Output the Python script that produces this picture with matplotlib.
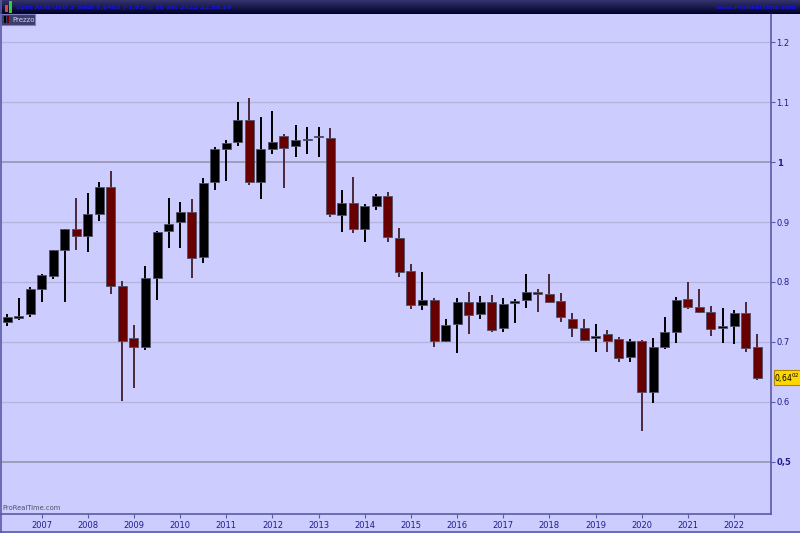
"""
AUD/USD quarterly candles, ProRealTime style
"""
import numpy as np
import matplotlib
matplotlib.use("Agg")
import matplotlib.pyplot as plt

# quarterly OHLC, Q2 2006 .. Q3 2022
opens = [0.733, 0.740, 0.746, 0.789, 0.810, 0.853, 0.888, 0.877, 0.914, 0.958,
         0.794, 0.706, 0.692, 0.807, 0.885, 0.900, 0.916, 0.841, 0.966, 1.022,
         1.033, 1.070, 0.967, 1.022, 1.043, 1.027, 1.036, 1.041, 1.040, 0.912,
         0.931, 0.888, 0.927, 0.943, 0.874, 0.818, 0.762, 0.770, 0.702, 0.730,
         0.767, 0.746, 0.766, 0.723, 0.765, 0.770, 0.783, 0.780, 0.769, 0.739,
         0.723, 0.707, 0.713, 0.705, 0.675, 0.702, 0.617, 0.691, 0.717, 0.771,
         0.759, 0.750, 0.723, 0.727, 0.748, 0.691]
highs = [0.746, 0.773, 0.792, 0.813, 0.854, 0.888, 0.940, 0.949, 0.966, 0.985,
         0.802, 0.728, 0.826, 0.885, 0.940, 0.933, 0.938, 0.973, 1.025, 1.037,
         1.100, 1.106, 1.075, 1.085, 1.047, 1.062, 1.058, 1.059, 1.056, 0.953,
         0.975, 0.930, 0.947, 0.950, 0.890, 0.830, 0.816, 0.773, 0.739, 0.773,
         0.784, 0.777, 0.778, 0.774, 0.771, 0.813, 0.789, 0.813, 0.781, 0.748,
         0.739, 0.730, 0.720, 0.709, 0.705, 0.703, 0.707, 0.742, 0.775, 0.800,
         0.789, 0.760, 0.756, 0.753, 0.766, 0.714]
lows = [0.727, 0.737, 0.741, 0.767, 0.805, 0.767, 0.854, 0.850, 0.902, 0.780,
        0.601, 0.624, 0.686, 0.770, 0.856, 0.856, 0.806, 0.831, 0.953, 0.969,
        1.027, 0.961, 0.938, 1.013, 0.957, 1.009, 1.013, 1.009, 0.909, 0.884,
        0.881, 0.866, 0.920, 0.867, 0.809, 0.755, 0.753, 0.691, 0.700, 0.682,
        0.714, 0.739, 0.716, 0.717, 0.732, 0.756, 0.750, 0.765, 0.733, 0.709,
        0.701, 0.683, 0.683, 0.667, 0.666, 0.551, 0.598, 0.688, 0.699, 0.755,
        0.748, 0.710, 0.699, 0.697, 0.683, 0.636]
closes = [0.742, 0.743, 0.788, 0.811, 0.853, 0.888, 0.876, 0.913, 0.958, 0.794,
          0.702, 0.691, 0.806, 0.884, 0.896, 0.916, 0.840, 0.965, 1.021, 1.032,
          1.070, 0.966, 1.022, 1.033, 1.023, 1.037, 1.039, 1.042, 0.913, 0.931,
          0.889, 0.927, 0.943, 0.875, 0.817, 0.761, 0.770, 0.702, 0.729, 0.766,
          0.745, 0.766, 0.720, 0.763, 0.769, 0.783, 0.780, 0.767, 0.741, 0.723,
          0.704, 0.709, 0.702, 0.674, 0.702, 0.616, 0.691, 0.716, 0.770, 0.759,
          0.750, 0.722, 0.727, 0.748, 0.690, 0.6402]

years = [str(y) for y in range(2007, 2023)]
year_pos = [3 + 4 * k for k in range(len(years))]   # Q1 of each year
price_ticks = [1.2, 1.1, 1.0, 0.9, 0.8, 0.7, 0.6, 0.5]
price_labels = ["1.2", "1.1", "1", "0.9", "0.8", "0.7", "0.6", "0,5"]

W, H = 800, 533
bg = "#ccccff"
up_col = "#000000"
down_col = "#680000"
axis_col = "#5a5aa8"
txt_col = "#1e1e8c"

fig = plt.figure(figsize=(W / 100, H / 100), dpi=100)
fig.patch.set_facecolor(bg)

# main price panel
ax = fig.add_axes([1 / W, (H - 514) / H, 770 / W, 500 / H])
ax.set_facecolor(bg)
ax.set_xlim(-0.52, 66.2)
ax.set_ylim(0.4133, 1.2467)

for p in price_ticks:
    strong = p in (1.0, 0.5)
    ax.axhline(p, color="#9a9ab4" if strong else "#b4b4dc", lw=1.3 if strong else 1.0, zorder=0)

x = np.arange(len(opens))
o = np.array(opens)
c = np.array(closes)
cols = [up_col if cc >= oo else down_col for oo, cc in zip(o, c)]
wick_cols = ["#000000" if cc >= oo else "#4a2838" for oo, cc in zip(o, c)]
ax.vlines(x, lows, highs, colors=wick_cols, lw=1.4, zorder=2)
bottoms = np.minimum(o, c)
heights = np.maximum(np.abs(c - o), 0.0025)
ax.bar(x, heights, bottom=bottoms, width=0.78, color=cols,
       edgecolor="#505068", linewidth=0.6, zorder=3)

# axes styling
for s in ["top", "left"]:
    ax.spines[s].set_visible(False)
ax.spines["right"].set_color(axis_col)
ax.spines["bottom"].set_color(axis_col)
ax.spines["right"].set_linewidth(1.2)
ax.spines["bottom"].set_linewidth(1.2)
ax.yaxis.tick_right()
ax.set_yticks(price_ticks)
ax.set_yticklabels(price_labels)
for lab, p in zip(ax.get_yticklabels(), price_ticks):
    if p in (1.0, 0.5):
        lab.set_fontweight("bold")
ax.tick_params(axis="y", colors=axis_col, labelcolor=txt_col, labelsize=6,
               length=3, width=0.8, pad=1)
ax.set_xticks(year_pos)
ax.set_xticklabels(years)
ax.tick_params(axis="x", colors=axis_col, labelcolor=txt_col, labelsize=6,
               length=3, width=0.8, pad=2)

ax.text(0.002, 0.005, "ProRealTime.com", transform=ax.transAxes, fontsize=4.9,
        color="#505060", ha="left", va="bottom")

# last price flag
ax.annotate("0,64$^{02}$", xy=(1.0, closes[-1]), xycoords=("axes fraction", "data"),
            xytext=(2.5, 0), textcoords="offset points", fontsize=5.5, color="#000000",
            va="center", ha="left", annotation_clip=False,
            bbox=dict(boxstyle="square,pad=0.12", fc="#ffd700", ec="#b08800", lw=0.8))

# frame lines
fig.add_artist(plt.Line2D([0, 1], [1.5 / H, 1.5 / H], color=axis_col, lw=1.2))
fig.add_artist(plt.Line2D([0.5 / W, 0.5 / W], [0, 1], color=axis_col, lw=1.2))

# dark title bar
top = fig.add_axes([0, 1 - 14 / H, 1, 14 / H])
grad = np.linspace(0, 1, 50).reshape(-1, 1)
top.imshow(grad, aspect="auto", cmap=matplotlib.colors.LinearSegmentedColormap.from_list(
    "bar", ["#34346e", "#000028"]), extent=[0, 1, 0, 1])
top.set_xlim(0, 1)
top.set_ylim(0, 1)
top.axis("off")
top.bar([6 / W, 10 / W], [0.5, 0.8], bottom=[0.15, 0.1], width=3 / W,
        color=["#e04040", "#30d030"])
top.text(16 / W, 0.5, "Spot AUD/USD 3 mesi 0,6402 (-1,83%) 30 set 2022 22.59.59",
         fontsize=4.6, color="#1414e0", fontweight="bold", va="center", ha="left")
top.text(1 - 3 / W, 0.45, "www.ProRealTime.com", fontsize=4.5, color="#1414e0",
         fontweight="bold", va="center", ha="right")

# "Prezzo" tab
tab = fig.add_axes([1 / W, 1 - 25 / H, 34 / W, 11 / H])
tab.set_facecolor("#3c3c6e")
for s in tab.spines.values():
    s.set_color("#8080c0")
tab.set_xticks([])
tab.set_yticks([])
tab.set_xlim(0, 1)
tab.set_ylim(0, 1)
tab.bar([0.12, 0.2], [0.7, 0.7], bottom=0.15, width=0.07, color=["#000000", "#680000"])
tab.text(0.32, 0.5, "Prezzo", fontsize=5, color="#d0d0f0", va="center", ha="left")

fig.savefig("out.png", dpi=100, facecolor=bg)
